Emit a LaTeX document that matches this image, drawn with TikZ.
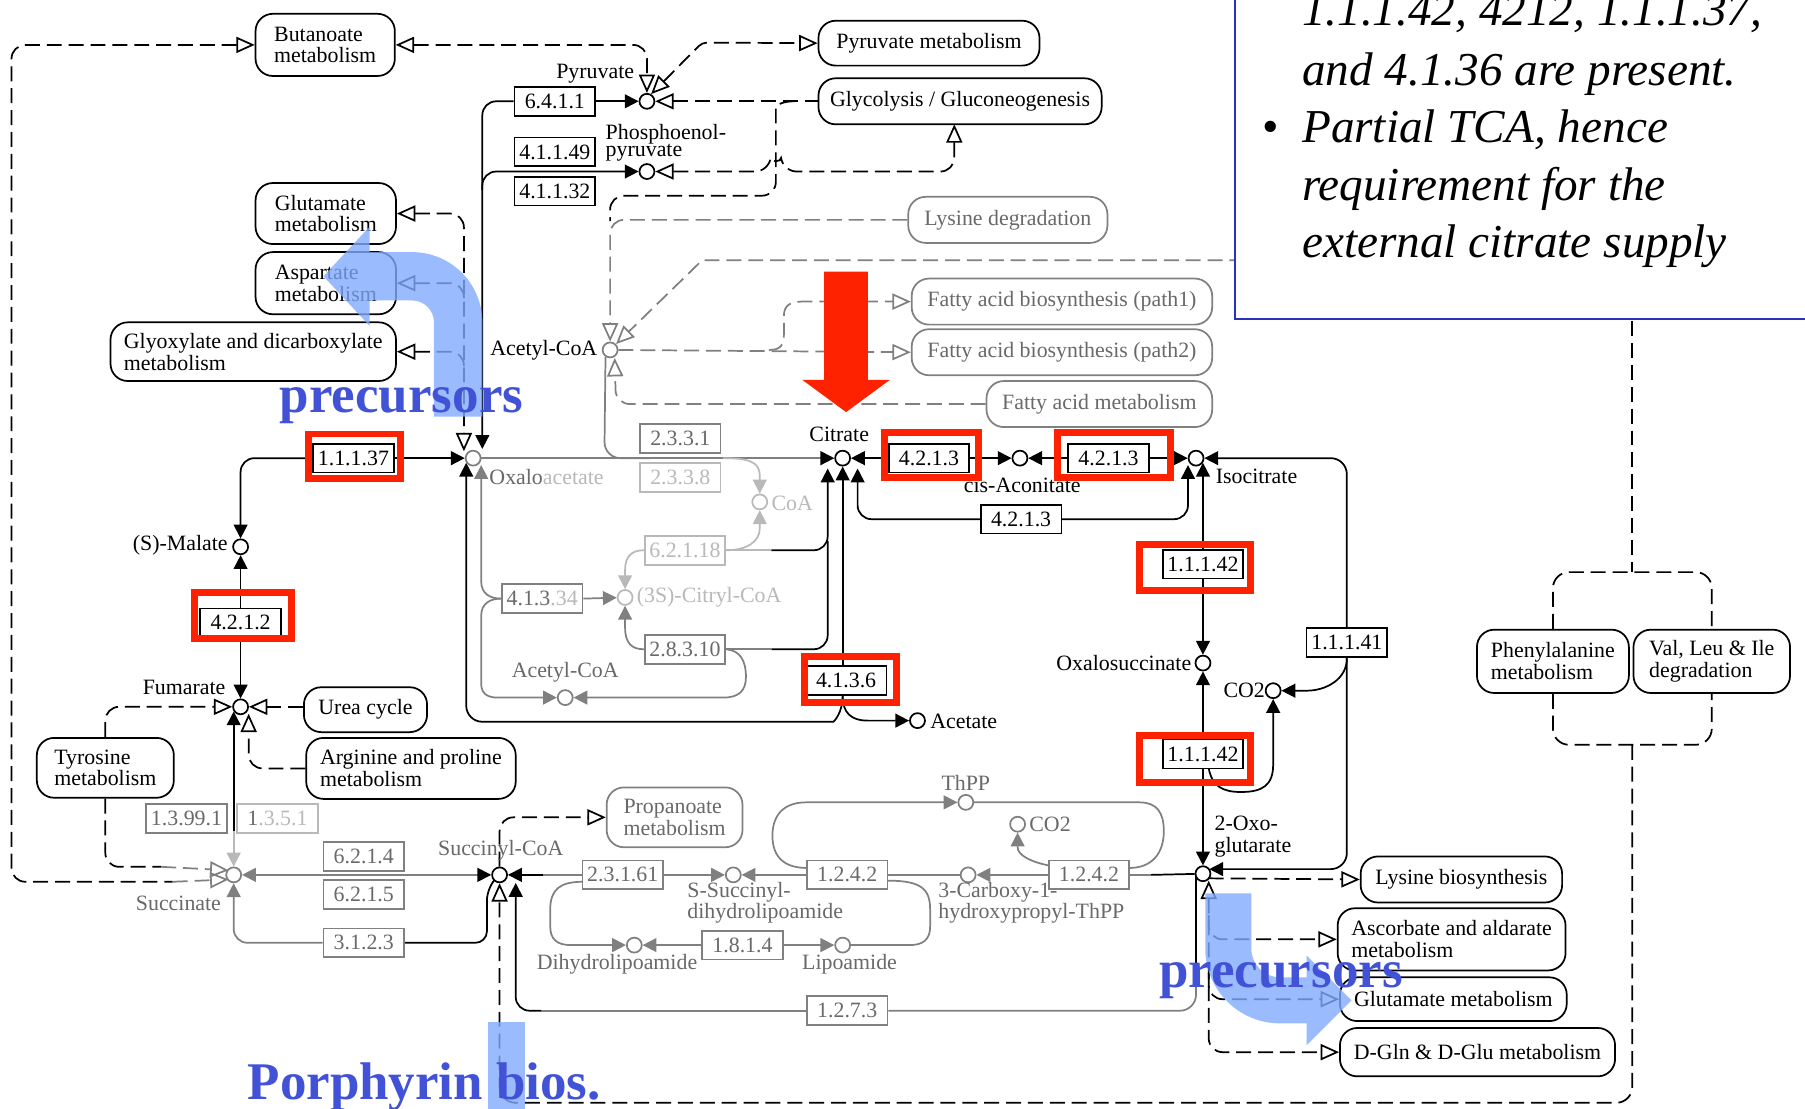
\documentclass[tikz,border=0pt]{standalone}
\usepackage{fontspec}
\setmainfont{Liberation Serif}
\usetikzlibrary{arrows.meta,calc}
\pgfdeclarelayer{paper}
\pgfdeclarelayer{links}
\pgfsetlayers{paper,links,main}
\definecolor{ga}{RGB}{128,128,128}
\definecolor{gb}{RGB}{185,185,185}
\definecolor{gt}{RGB}{105,105,105}
\definecolor{kred}{RGB}{255,34,0}
\definecolor{pblue}{RGB}{66,82,214}
\definecolor{lblue}{RGB}{130,170,255}
\definecolor{nblue}{RGB}{40,50,190}
\newcommand{\kf}{\fontsize{19}{19}\selectfont}
\newcommand{\kft}{\fontsize{19}{15}\selectfont}
\newcommand{\kfm}{\fontsize{19}{17}\selectfont}
\newcommand{\pf}{\fontsize{46}{46}\selectfont\bfseries}
\newcommand{\nf}{\fontsize{41}{50}\selectfont\itshape}
\tikzset{
  lw/.style={line width=1.5pt},
  ln/.style={lw},
  dl/.style={lw, dash pattern=on 13pt off 6pt},
  fa/.style={-{Triangle[length=12pt,width=12pt]}},
  oa/.style={-{Triangle[open,length=16pt,width=14pt]}},
  oas/.style={{Triangle[open,length=16pt,width=14pt]}-},
  oab/.style={{Triangle[open,length=16pt,width=14pt]}-{Triangle[open,length=16pt,width=14pt]}},
  enz/.style={draw, lw, fill=white, minimum width=70pt, minimum height=25pt, inner sep=0pt, font=\kf},
  genz/.style={enz, draw=ga, text=gt},
  lenz/.style={enz, draw=gb, text=gb},
  mapb/.style={draw, lw, fill=white, rounded corners=15pt, inner sep=0pt, font=\kf, align=left},
  gmap/.style={mapb, draw=ga, text=gt},
  cpd/.style={circle, draw, lw, fill=white, minimum size=13pt, inner sep=0pt},
  gcpd/.style={cpd, draw=ga},
  lcpd/.style={cpd, draw=gb},
  lbl/.style={inner sep=0pt, font=\kf},
  redbox/.style={draw=kred, line width=6pt},
  bigtxt/.style={inner sep=0pt, font=\pf, text=pblue},
  note/.style={inner sep=0pt, font=\nf, anchor=base west},
}
\begin{document}
\begin{tikzpicture}[x=1pt,y=-1pt]
\begin{pgfonlayer}{paper}
\fill[white] (0,0) rectangle (1568,963);
\end{pgfonlayer}
\useasboundingbox (0,0) rectangle (1568,963);
% ---------- map boxes ----------
\node[mapb, minimum width=121pt, minimum height=54pt] (mButa) at (282.5,39) {Butanoate\\metabolism};
\node[mapb, minimum width=192pt, minimum height=39pt] (mPyrM) at (807,37.5) {Pyruvate metabolism};
\node[mapb, minimum width=246pt, minimum height=40pt] (mGlyc) at (834,88) {Glycolysis / Gluconeogenesis};
\node[mapb, minimum width=122pt, minimum height=53pt] (mGluL) at (283,185.5) {Glutamate\\metabolism};
\node[mapb, minimum width=122pt, minimum height=54pt] (mAsp) at (283,246) {Aspartate\\metabolism};
\node[mapb, minimum width=248pt, minimum height=51pt] (mGlyox) at (220,305.5) {Glyoxylate and dicarboxylate\\metabolism};
\node[gmap, minimum width=173pt, minimum height=40pt] (mLysD) at (875.5,191) {Lysine degradation};
\node[gmap, minimum width=261pt, minimum height=40pt] (mFab1) at (922.5,262) {Fatty acid biosynthesis (path1)};
\node[gmap, minimum width=261pt, minimum height=40pt] (mFab2) at (922.5,306) {Fatty acid biosynthesis (path2)};
\node[gmap, minimum width=196pt, minimum height=40pt] (mFaM) at (955,351) {Fatty acid metabolism};
\node[mapb, minimum width=107pt, minimum height=39pt] (mUrea) at (317.5,616.5) {Urea cycle};
\node[mapb, minimum width=119pt, minimum height=52pt] (mTyr) at (91.5,667) {Tyrosine\\metabolism};
\node[mapb, minimum width=182pt, minimum height=53pt] (mArg) at (357,667.5) {Arginine and proline\\metabolism};
\node[gmap, minimum width=118pt, minimum height=52pt] (mProp) at (586,710) {Propanoate\\metabolism};
\node[mapb, minimum width=132pt, minimum height=55pt] (mPhe) at (1349,574.5) {Phenylalanine\\metabolism};
\node[mapb, minimum width=136pt, minimum height=55pt] (mVal) at (1487,574.5) {Val, Leu \& Ile\\degradation};
\node[mapb, minimum width=175pt, minimum height=40pt] (mLysB) at (1269.5,764) {Lysine biosynthesis};
\node[mapb, minimum width=198pt, minimum height=54pt] (mAsc) at (1261,816) {Ascorbate and aldarate\\metabolism};
\node[mapb, minimum width=197pt, minimum height=38pt] (mGluR) at (1262.5,868) {Glutamate metabolism};
\node[mapb, minimum width=239pt, minimum height=42pt] (mDGln) at (1283.5,914) {D-Gln \& D-Glu metabolism};
% ---------- enzymes ----------
\node[enz] (e6411) at (482,88) {6.4.1.1};
\node[enz] (e41149) at (482,132) {4.1.1.49};
\node[enz] (e41132) at (482,166) {4.1.1.32};
\node[enz] (e11137) at (307,398) {1.1.1.37};
\node[genz] (e2331) at (591,381) {2.3.3.1};
\node[lenz] (e2338) at (591,415) {2.3.3.8};
\node[enz] (e42131) at (807,398) {4.2.1.3};
\node[enz] (e42132) at (963,398) {4.2.1.3};
\node[enz] (e42133) at (887,451) {4.2.1.3};
\node[lenz] (e62118) at (595,478) {6.2.1.18};
\node[genz] (e41334) at (471,520) {\textcolor{gt}{4.1.3}\textcolor{gb}{.34}};
\node[genz] (e28310) at (595,564) {2.8.3.10};
\node[enz] (e4136) at (735,591) {4.1.3.6};
\node[enz] (e4212) at (209,541) {4.2.1.2};
\node[enz] (e111421) at (1045,490) {1.1.1.42};
\node[enz] (e111422) at (1045,655) {1.1.1.42};
\node[enz] (e11141) at (1170,558) {1.1.1.41};
\node[genz] (e13991) at (162,711) {1.3.99.1};
\node[lenz] (e1351) at (241,711) {\textcolor{gt}{1}.3.5.1};
\node[genz] (e6214) at (316,744) {6.2.1.4};
\node[genz] (e6215) at (316,777) {6.2.1.5};
\node[genz] (e3123) at (316,819) {3.1.2.3};
\node[genz] (e23161) at (541,760) {2.3.1.61};
\node[genz] (e1242a) at (736,760) {1.2.4.2};
\node[genz] (e1242b) at (946,760) {1.2.4.2};
\node[genz] (e1814) at (645,821) {1.8.1.4};
\node[genz] (e1273) at (736,878) {1.2.7.3};
% ---------- compounds ----------
\node[cpd] (pyr) at (562,88) {};
\node[cpd] (pep) at (562,149) {};
\node[gcpd] (acoA) at (530,304) {};
\node[gcpd] (oaa) at (411,398) {};
\node[cpd] (cit) at (732,398) {};
\node[cpd] (cisa) at (886,398) {};
\node[cpd] (icit) at (1039,398) {};
\node[lcpd] (coa) at (660,436) {};
\node[lcpd] (ccoa) at (543,519) {};
\node[gcpd] (acoB) at (491,606) {};
\node[cpd] (acet) at (797,626) {};
\node[cpd] (mal) at (209,475) {};
\node[cpd] (fum) at (209,614) {};
\node[gcpd] (succ) at (203,760) {};
\node[cpd] (scoa) at (434,760) {};
\node[gcpd] (ssd) at (637,760) {};
\node[gcpd] (chp) at (841,760) {};
\node[gcpd] (thpp) at (839,697) {};
\node[gcpd] (co2g) at (884,716) {};
\node[gcpd] (dhl) at (551,821) {};
\node[gcpd] (lip) at (732,821) {};
\node[cpd] (osuc) at (1045,576) {};
\node[cpd] (co2) at (1106,600) {};
\node[cpd] (akg) at (1045,759) {};
% ---------- compound labels ----------
\node[lbl, anchor=base east] (lpyr) at (551,68) {Pyruvate};
\node[lbl, anchor=north west, font=\kft, align=left] (lpep) at (526,108) {Phosphoenol-\\pyruvate};
\node[lbl, anchor=east] (lacoA) at (519,304) {Acetyl-CoA};
\node[lbl, anchor=west] (loaa) at (425,414) {\textcolor{gt}{Oxalo}\textcolor{gb}{acetate}};
\node[lbl] (lcit) at (729,377) {Citrate};
\node[lbl] (lcisa) at (888,422) {cis-Aconitate};
\node[lbl, anchor=west] (licit) at (1056,414) {Isocitrate};
\node[lbl, anchor=west, text=gb] (lcoa) at (670,437) {CoA};
\node[lbl, anchor=west, text=gb] (lccoa) at (553,519) {(3S)-Citryl-CoA};
\node[lbl, text=gt] (lacoB) at (491,584) {Acetyl-CoA};
\node[lbl, anchor=west] (lacet) at (808,627) {Acetate};
\node[lbl, anchor=east] (lmal) at (198,474) {(S)-Malate};
\node[lbl, anchor=east] (lfum) at (196,597) {Fumarate};
\node[lbl, text=gt] (lsucc) at (155,785) {Succinate};
\node[lbl, text=gt] (lscoa) at (435,739) {Succinyl-CoA};
\node[lbl, anchor=north west, font=\kfm, align=left, text=gt] (lssd) at (597,766) {S-Succinyl-\\dihydrolipoamide};
\node[lbl, anchor=north west, font=\kfm, align=left, text=gt] (lchp) at (815,766) {3-Carboxy-1-\\hydroxypropyl-ThPP};
\node[lbl, text=gt] (lthpp) at (839,680) {ThPP};
\node[lbl, anchor=west, text=gt] (lco2g) at (894,716) {CO2};
\node[lbl, text=gt] (ldhl) at (536,838) {Dihydrolipoamide};
\node[lbl, text=gt] (llip) at (738,838) {Lipoamide};
\node[lbl, anchor=east] (losuc) at (1035,576) {Oxalosuccinate};
\node[lbl, anchor=east] (lco2) at (1099,600) {CO2};
\node[lbl, anchor=north west, align=left] (lakg) at (1055,709) {2-Oxo-\\glutarate};
% ---------- connectors ----------
\begin{pgfonlayer}{links}
\draw[dl, oas, rounded corners=12pt] (mButa.west) -- (10,39) -- (10,766) -- (150,766);
\draw[dl, draw=ga, oa] (150,766) -- (198.5,764);
\draw[dl, oab, rounded corners=12pt] (mButa.east) -- (562,39) -- (pyr.north);
\draw[dl, oab, rounded corners=4pt] (pyr.60) -- (610,37) -- (mPyrM.west);
\draw[dl, oas] (pyr.east) -- (mGlyc.west);
\draw[dl, rounded corners=12pt] (690,88) .. controls (677,88) and (674,93) .. (674,104) -- (674,170) -- (530,170) -- (530,192);
\draw[dl, draw=ga, oa, rounded corners=12pt] (mLysD.west) -- (530,191) -- (acoA.north);
\draw[dl, oab, rounded corners=12pt] (pep.east) -- (668,149) .. controls (669,141) and (679,141) .. (680,149) -- (829,149) -- (829,108);
\draw[dl, draw=ga, oa] (1100,226) -- (610,226) -- (acoA.north east);
\draw[dl] (1418,260) -- (1418,497);
\draw[dl, draw=ga, oa] (acoA.east) -- (mFab2.west);
\draw[dl, draw=ga, oa] (668,304) .. controls (678,304) and (681,300) .. (681,290) -- (681,274) .. controls (681,266) and (686,262) .. (696,262) -- (mFab1.west);
\draw[dl, draw=ga, oa, rounded corners=12pt] (mFaM.west) -- (535,351) -- ($(acoA)+(4,7)$);
\draw[ln, draw=ga, rounded corners=14pt] ($(acoA)+(-4,6)$) -- (525,398) -- (565,398);
\draw[ln, draw=ga, -{Triangle[length=12pt,width=12pt,color=black]}] (oaa) -- (cit);
\draw[ln, draw=gb, fa] (628,398) .. controls (650,398) and (660,401) .. (660,413) -- (coa.north);
\draw[ln, draw=gb, fa] (e62118.east) .. controls (648,478) and (660,471) .. (660,459) -- (coa.south);
\draw[ln, draw=gb] (e62118.east) -- (670,478);
\draw[ln, fa, rounded corners=12pt] (670,478) -- (719,478) -- (719,407);
\draw[ln, draw=ga] (e28310.east) -- (670,564);
\draw[ln, rounded corners=12pt] (670,564) -- (719,564) -- (719,470);
\draw[ln, fa] (e4136.north -| cit) -- (cit);
\draw[ln, fa, rounded corners=12pt] (e42133.west) -- (745,451) -- (745,407);
\draw[ln, fa, rounded corners=12pt] (e42133.east) -- (1032,451) -- (1032,404);
\draw[ln, fa] (e42131.west) -- (cit);
\draw[ln, fa] (e42131.east) -- (cisa);
\draw[ln, fa] (e42132.west) -- (cisa);
\draw[ln, fa] (e42132.east) -- (icit);
\draw[ln, fa, rounded corners=14pt] (e11141.north) -- (1170,398) -- (icit);
\draw[ln, fa, rounded corners=14pt] (e11141.south) -- (1170,755) -- (1050.5,755);
\draw[ln, fa] (1170,572) .. controls (1170,590) and (1152,600) .. (1135,600) -- (co2);
\draw[ln, fa] (e111421.north) -- (1045,402);
\draw[ln, fa] (e111421.south) -- (osuc);
\draw[ln, fa] (e111422.north) -- (osuc);
\draw[ln, fa] (e111422.south) -- (akg);
\draw[ln, fa] (1050,667.5) .. controls (1053,683) and (1062,688) .. (1078,688) .. controls (1097,688) and (1106,682) .. (1106,664) -- (co2);
\draw[dl, oa] (1050,763) -- (mLysB.west);
\draw[dl, oab, rounded corners=12pt] (1050,765) -- (1050,914) -- (mDGln.west);
\draw[dl, oa, rounded corners=12pt] (1050,795) -- (1050,816) -- (mAsc.west);
\draw[dl, oa, rounded corners=12pt] (1050,845) -- (1050,868) -- (mGluR.west);
\draw[ln] (1039,762) -- (1039,855);
\draw[ln, draw=ga, rounded corners=14pt] (1039,855) -- (1039,878) -- (e1273.east);
\draw[ln, draw=ga] (e1273.west) -- (470,878);
\draw[ln, fa, rounded corners=12pt] (470,878) -- (448,878) -- (448,767);
\draw[ln, draw=ga] (e1242b.east) -- (1000,760);
\draw[ln] (1000,760) -- (akg);
\draw[ln, draw=ga, fa] (e1242b.west) -- (chp);
\draw[ln, draw=ga] (e1242a.east) -- (chp);
\draw[ln, draw=ga, fa] (e1242a.west) -- (ssd);
\draw[ln, draw=ga, fa] (e23161.east) -- (ssd);
\draw[ln, draw=ga] (e23161.west) -- (472,760);
\draw[ln, fa] (472,760) -- (scoa);
\draw[ln, draw=ga, {Triangle[length=12pt,width=12pt]}-{Triangle[length=12pt,width=12pt,color=black]}] (succ) -- (scoa);
\draw[ln, draw=ga, fa, rounded corners=12pt] (e3123.west) -- (203,819) -- (succ);
\draw[ln, rounded corners=10pt] (e3123.east) -- (423,819) -- (423,772) -- (429.5,764.5);
\draw[ln, fa] (203,722) -- (203,618);
\draw[ln, draw=gb, fa] (203,722) -- (succ);
\draw[ln, fa] (e4212.north) -- (mal);
\draw[ln, fa] (e4212.south) -- (fum);
\draw[ln, fa, rounded corners=12pt] (e11137.west) -- (209,398) -- (mal);
\draw[ln, fa] (e11137.east) -- (oaa);
\draw[dl, oa, rounded corners=12pt] (mTyr.north) -- (91.5,614) -- (fum);
\draw[dl, rounded corners=12pt] (mTyr.south) -- (91.5,753) -- (140,753);
\draw[dl, draw=ga, oa] (140,753) -- (198.5,756);
\draw[dl, oa] (mUrea.west |- fum) -- (fum);
\draw[dl, oa, rounded corners=12pt] (mArg.west) -- (216,667.5) -- (216,620);
\draw[dl, oab, rounded corners=12pt] (mGluL.east) -- (403,185.5) -- (403,392);
\draw[dl, oas, rounded corners=12pt] (mAsp.east) -- (403,246) -- (403,259);
\draw[dl, oas, rounded corners=12pt] (mGlyox.east) -- (403,305.5) -- (403,318);
\draw[ln, fa] (e6411.east) -- (pyr);
\draw[ln, fa, rounded corners=12pt] (e6411.west) -- (419,88) -- (419,390);
\draw[ln, fa, rounded corners=12pt] (419,165) -- (419,149) -- (pep);
\draw[ln, fa, rounded corners=14pt] (e4136.south -| cit) .. controls (732,620) and (724,627) .. (710,627) -- (405,627) -- (405,402);
\draw[ln, fa] (e4136.south -| cit) .. controls (732,619) and (739,626) .. (754,626) -- (acet);
\draw[ln, draw=ga, fa] (e41334.west) .. controls (426,520) and (418,516) .. (418,505) -- (418,404);
\draw[ln, draw=ga, fa] (e41334.west) .. controls (426,520) and (418,524) .. (418,535) -- (418,594) .. controls (418,602) and (423,606) .. (432,606) -- (acoB);
\draw[ln, draw=ga, fa] (e41334.east) -- (ccoa);
\draw[ln, draw=ga, fa] (e28310.east) .. controls (643,565) and (648,574) .. (648,588) .. controls (648,600) and (642,606) .. (628,606) -- (acoB);
\draw[ln, draw=gb, fa] (e62118.west) .. controls (549,478) and (543,483) .. (543,495) -- (ccoa);
\draw[ln, draw=ga, fa] (e28310.west) .. controls (549,564) and (543,559) .. (543,545) -- (ccoa);
\draw[dl, oa, rounded corners=12pt] (scoa.north) -- (434,710) -- (mProp.west);
\draw[dl, oa, rounded corners=14pt] (1418,647) -- (1418,958) -- (434,958) -- (scoa.south);
\draw[dl, rounded corners=14pt] (mPhe.north) -- (1349,497) -- (1487,497) -- (mVal.north);
\draw[dl, rounded corners=14pt] (mPhe.south) -- (1349,647) -- (1487,647) -- (mVal.south);
\draw[ln, draw=ga, fa] (506,766) .. controls (486,766) and (478,773) .. (478,790) -- (478,805) .. controls (478,816) and (484,821) .. (496,821) -- (dhl);
\draw[ln, draw=ga, fa] (e1814.west) -- (dhl);
\draw[ln, draw=ga, fa] (e1814.east) -- (lip);
\draw[ln, draw=ga] (771,765) .. controls (800,765) and (808,772) .. (808,790) -- (808,805) .. controls (808,816) and (802,821) .. (790,821) -- (lip);
\draw[ln, draw=ga, fa] (701,754) .. controls (677,754) and (671,740) .. (671,726) .. controls (671,708) and (681,697) .. (700,697) -- (thpp);
\draw[ln, draw=ga] (thpp) -- (990,697) .. controls (1005,697) and (1011,706) .. (1011,722) .. controls (1011,742) and (1000,754) .. (981,754);
\draw[ln, draw=ga, fa] (912,752) .. controls (896,749) and (884,743) .. (884,736) -- (co2g);
\end{pgfonlayer}
% ---------- highlights ----------
\draw[redbox] (268,377) rectangle (348,416);
\draw[redbox] (768,376) rectangle (850,415);
\draw[redbox] (919,376) rectangle (1017,415);
\draw[redbox] (990,473) rectangle (1086,513);
\draw[redbox] (990,639) rectangle (1086,680);
\draw[redbox] (169,515) rectangle (253,555);
\draw[redbox] (699,570) rectangle (779,610);
\fill[kred] (716,236) -- (754,236) -- (754,330) -- (773,330) -- (735,358) -- (697,330) -- (716,330) -- cycle;
% blue arrows
\fill[lblue, opacity=0.8] (377,362) -- (377,280) .. controls (377,269.5) and (368.5,261) .. (358,261) -- (321,261) -- (321,283) -- (281,240) -- (321,197) -- (321,219) -- (358,219) .. controls (391.7,219) and (419,246.3) .. (419,280) -- (419,362) -- cycle;
\fill[lblue, opacity=0.8] (1047,776) -- (1047,824) .. controls (1047,859.9) and (1076.1,889) .. (1112,889) -- (1135,889) -- (1135,908) -- (1174,869) -- (1135,830) -- (1135,849) -- (1112,849) .. controls (1098.2,849) and (1087,837.8) .. (1087,824) -- (1087,776) -- cycle;
\fill[lblue, opacity=0.8] (424,888) rectangle (456,963);
\node[bigtxt, anchor=base west] (tprec1) at (243,358) {precursors};
\node[bigtxt, anchor=base west] (tprec2) at (1007,858) {precursors};
\node[bigtxt, anchor=base west] (tporph) at (215,955) {Porphyrin bios.};
% note box
\draw[nblue, line width=2pt, fill=white] (1073,-10) rectangle (1580,277);
\node[note] (n1) at (1131,22) {1.1.1.42, 4212, 1.1.1.37,};
\node[note] (n2) at (1131,74) {and 4.1.36 are present.};
\node[inner sep=0pt, anchor=base, font=\fontsize{41}{50}\selectfont] (nb) at (1104,124) {\textbullet};
\node[note] (n3) at (1131,124) {Partial TCA, hence};
\node[note] (n4) at (1131,174) {requirement for the};
\node[note] (n5) at (1131,224) {external citrate supply};
\end{tikzpicture}
\end{document}
